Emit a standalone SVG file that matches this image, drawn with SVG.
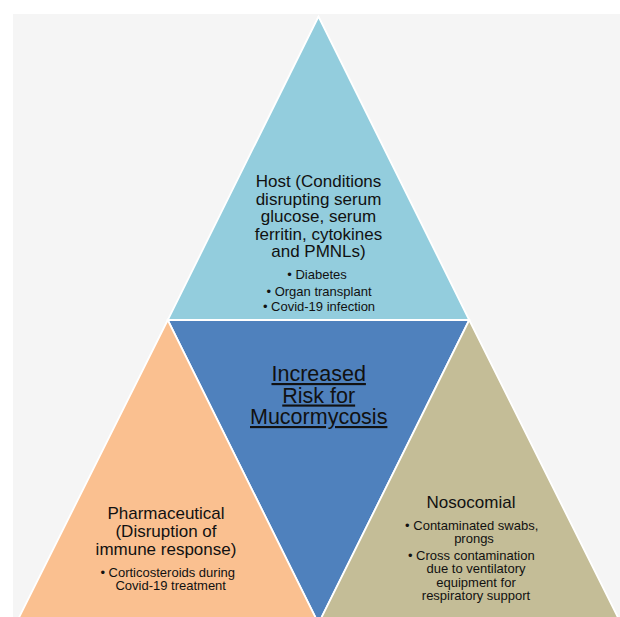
<svg xmlns="http://www.w3.org/2000/svg" width="620" height="617" viewBox="0 0 620 617">
  <style>
    .tri { stroke: #ffffff; stroke-width: 1.8; stroke-linejoin: miter; }
    text { font-family: "Liberation Sans", Arial, sans-serif; fill: #111111; text-anchor: middle; }
    .title { font-size: 17px; }
    .item { font-size: 13px; }
    .core { font-size: 21.5px; text-decoration: underline; }
  </style>
  <rect x="0" y="0" width="620" height="617" fill="#ffffff"/>
  <rect x="13" y="14" width="607" height="603" fill="#f5f5f5"/>

  <g id="host">
    <polygon class="tri" points="318.5,16.5 167.75,320 469.25,320" fill="#93cddd"/>
    <text class="title" x="318.5" y="187.3">Host (Conditions</text>
    <text class="title" x="318.5" y="204.8">disrupting serum</text>
    <text class="title" x="318.5" y="222.3">glucose, serum</text>
    <text class="title" x="318.5" y="239.8">ferritin, cytokines</text>
    <text class="title" x="318.5" y="257.3">and PMNLs)</text>
    <text class="item" x="317" y="279">• Diabetes</text>
    <text class="item" x="319" y="295.5">• Organ transplant</text>
    <text class="item" x="319" y="311">• Covid-19 infection</text>
  </g>

  <g id="risk">
    <polygon class="tri" points="167.75,320 469.25,320 318.5,623.5" fill="#4f81bd"/>
    <text class="core" x="318.7" y="381">Increased</text>
    <text class="core" x="318.7" y="402.5">Risk for</text>
    <text class="core" x="318.7" y="424">Mucormycosis</text>
  </g>

  <g id="pharmaceutical">
    <polygon class="tri" points="167.75,320 16,623.5 318.5,623.5" fill="#fac090"/>
    <text class="title" x="166" y="519.3">Pharmaceutical</text>
    <text class="title" x="166" y="537.2">(Disruption of</text>
    <text class="title" x="166" y="555">immune response)</text>
    <text class="item" x="167.7" y="576.7">• Corticosteroids during</text>
    <text class="item" x="170.7" y="590">Covid-19 treatment</text>
  </g>

  <g id="nosocomial">
    <polygon class="tri" points="469.25,320 318.5,623.5 621,623.5" fill="#c4bd97"/>
    <text class="title" x="471" y="508.3">Nosocomial</text>
    <text class="item" x="471.7" y="530">• Contaminated swabs,</text>
    <text class="item" x="474" y="542.7">prongs</text>
    <text class="item" x="471.3" y="560">• Cross contamination</text>
    <text class="item" x="476" y="573.3">due to ventilatory</text>
    <text class="item" x="476" y="586.7">equipment for</text>
    <text class="item" x="476" y="600">respiratory support</text>
  </g>

  <g id="connectors"/>
</svg>
